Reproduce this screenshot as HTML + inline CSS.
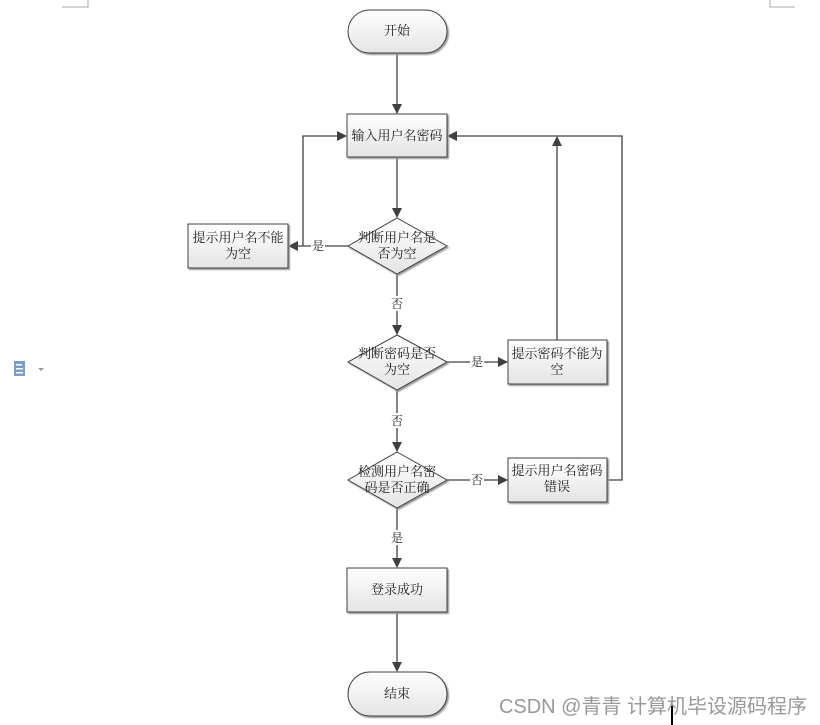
<!DOCTYPE html>
<html><head><meta charset="utf-8"><style>
body{margin:0;background:#fff;width:820px;height:725px;overflow:hidden;position:relative;font-family:"Liberation Serif","Noto Serif CJK SC",serif}
svg{position:absolute;left:0;top:0}
</style></head><body>
<svg width="820" height="725" xmlns="http://www.w3.org/2000/svg">
<defs>
<linearGradient id="g" x1="0" y1="0" x2="0" y2="1"><stop offset="0" stop-color="#ffffff"/><stop offset="1" stop-color="#e4e4e4"/></linearGradient>
<marker id="a" markerWidth="10" markerHeight="10" refX="9" refY="5" orient="auto" markerUnits="userSpaceOnUse"><path d="M0,0 L10,5 L0,10 z" fill="#404040"/></marker>
<filter id="s"><feDropShadow dx="1.5" dy="1.5" stdDeviation="0.8" flood-color="#999"/></filter>
</defs>
<g stroke="#aaa" fill="none" stroke-width="1">
<path d="M62,7 H88 V0"/><path d="M770,0 V7 H795"/>
</g>
<g stroke="#404040" stroke-width="1.3" fill="none">
<line x1="397" y1="53" x2="397" y2="113" marker-end="url(#a)"/>
<line x1="397" y1="157" x2="397" y2="217" marker-end="url(#a)"/>
<line x1="397" y1="274" x2="397" y2="334" marker-end="url(#a)"/>
<line x1="397" y1="390" x2="397" y2="451" marker-end="url(#a)"/>
<line x1="397" y1="508" x2="397" y2="567" marker-end="url(#a)"/>
<line x1="397" y1="612" x2="397" y2="671" marker-end="url(#a)"/>
<line x1="348" y1="246" x2="289" y2="246" marker-end="url(#a)"/>
<polyline points="303,246 303,136 346,136" marker-end="url(#a)"/>
<line x1="447" y1="362" x2="507" y2="362" marker-end="url(#a)"/>
<polyline points="557,340 557,137" marker-end="url(#a)"/>
<line x1="447" y1="480" x2="507" y2="480" marker-end="url(#a)"/>
<polyline points="607,480 622,480 622,136 448,136" marker-end="url(#a)"/>
</g>
<g stroke="#404040" stroke-width="1" fill="url(#g)" filter="url(#s)">
<rect x="348" y="10" width="99" height="43" rx="21.5"/>
<rect x="347" y="114" width="100" height="43"/>
<polygon points="397,218 447,246 397,274 348,246"/>
<rect x="188" y="224" width="100" height="44"/>
<polygon points="397,335 447,362 397,390 348,362"/>
<rect x="508" y="340" width="99" height="44"/>
<polygon points="397,452 447,480 397,508 348,480"/>
<rect x="508" y="458" width="99" height="44"/>
<rect x="347" y="568" width="100" height="44"/>
<rect x="348" y="672" width="99" height="44" rx="22"/>
</g>
<g font-size="13" fill="#222" text-anchor="middle" font-family="Liberation Serif,Noto Serif CJK SC,serif">
<text x="397" y="35">开始</text>
<text x="397" y="140">输入用户名密码</text>
<text x="397" y="242">判断用户名是</text><text x="397" y="258">否为空</text>
<text x="238" y="242">提示用户名不能</text><text x="238" y="258">为空</text>
<text x="397" y="358">判断密码是否</text><text x="397" y="374">为空</text>
<text x="557" y="358">提示密码不能为</text><text x="557" y="374">空</text>
<text x="397" y="476">检测用户名密</text><text x="397" y="492">码是否正确</text>
<text x="557" y="475">提示用户名密码</text><text x="557" y="491">错误</text>
<text x="397" y="594">登录成功</text>
<text x="397" y="698">结束</text>
</g>
<g font-size="12" fill="#222" text-anchor="middle">
<rect x="311" y="238" width="14" height="15" fill="#fff"/><text x="318" y="250">是</text>
<rect x="390" y="296" width="14" height="15" fill="#fff"/><text x="397" y="308">否</text>
<rect x="470" y="354" width="14" height="15" fill="#fff"/><text x="477" y="366">是</text>
<rect x="390" y="413" width="14" height="15" fill="#fff"/><text x="397" y="425">否</text>
<rect x="470" y="472" width="14" height="15" fill="#fff"/><text x="477" y="484">否</text>
<rect x="390" y="530" width="14" height="15" fill="#fff"/><text x="397" y="542">是</text>
</g>
<g><rect x="14" y="361" width="11" height="15" fill="#7a9cc6"/><rect x="16" y="364" width="6" height="1.5" fill="#fff"/><rect x="16" y="368" width="7" height="1.5" fill="#fff"/><rect x="16" y="372" width="7" height="1.5" fill="#fff"/><path d="M38,368 l6,0 l-3,3z" fill="#999"/></g>
<text x="653" y="713" font-size="20" fill="#999" text-anchor="middle" font-family="Liberation Sans,Noto Sans CJK SC,sans-serif">CSDN @青青  计算机毕设源码程序</text>
<line x1="672" y1="706" x2="672" y2="725" stroke="#000" stroke-width="2"/>
</svg>
</body></html>
